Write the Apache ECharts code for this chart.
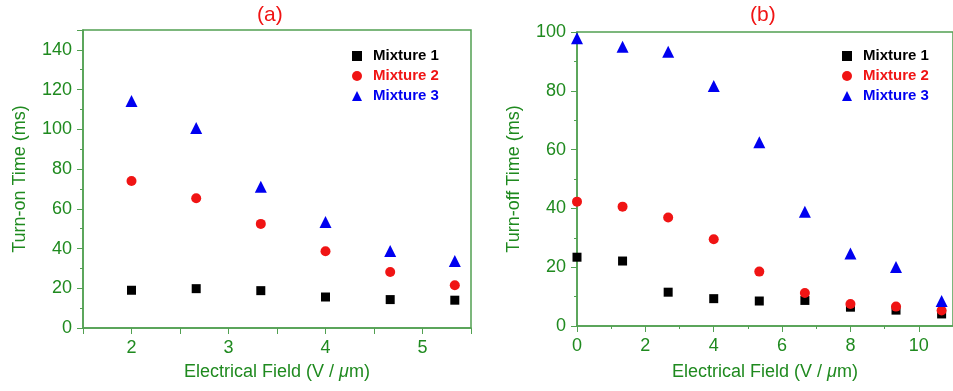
<!DOCTYPE html>
<html>
<head>
<meta charset="utf-8">
<script src="https://cdn.jsdelivr.net/npm/echarts@6/dist/echarts.min.js"></script>
<style>
html,body{margin:0;padding:0;background:#fff;}
#chart{width:953px;height:391px;}
</style>
</head>
<body>
<div id="chart"></div>
<script>
// panel (a): turn-on time
var fieldA = [2, 2.667, 3.333, 4, 4.667, 5.333];
var onMix1 = [19.0, 19.8, 18.8, 15.6, 14.3, 14.0];
var onMix2 = [74.0, 65.3, 52.4, 38.6, 28.2, 21.5];
var onMix3 = [114.3, 100.7, 71.1, 53.4, 38.8, 33.7];

// panel (b): turn-off time
var fieldB = [0, 1.333, 2.667, 4, 5.333, 6.667, 8, 9.333, 10.667];
var offMix1 = [23.4, 22.1, 11.5, 9.3, 8.5, 8.7, 6.4, 5.4, 4.1];
var offMix2 = [42.3, 40.6, 36.9, 29.5, 18.5, 11.2, 7.5, 6.6, 5.3];
var offMix3 = [97.9, 95.0, 93.3, 81.6, 62.5, 38.9, 24.7, 20.1, 8.5];

var names = ['Mixture 1', 'Mixture 2', 'Mixture 3'];
var colors = ['#000000', '#f01414', '#0000f0'];
var symbols = ['rect', 'circle', 'triangle'];
var symSizes = [9, 10, 12];

var green = '#1f8a1f';
var axisGreen = '#52a052';
var fontFam = '"Liberation Sans", Arial, sans-serif';

function pairs(xs, ys) {
	var out = [];
	for (var i = 0; i < xs.length; i++) out.push([xs[i], ys[i]]);
	return out;
}

function mkSeries(idx, xs, ys, k) {
	return {
		name: names[k],
		type: 'scatter',
		xAxisIndex: idx,
		yAxisIndex: idx,
		symbol: symbols[k],
		symbolSize: symSizes[k],
		itemStyle: { color: colors[k], opacity: 1 },
		data: pairs(xs, ys)
	};
}

// legend: small marker, text pushed right with padding
function mkLegend(left) {
	return {
		orient: 'vertical',
		left: left,
		top: 43,
		itemWidth: 10,
		itemHeight: 10,
		itemGap: 4,
		data: names.map(function (n, k) {
			return { name: n, icon: symbols[k], itemStyle: { opacity: 1 }, textStyle: { color: colors[k] } };
		}),
		textStyle: { fontFamily: fontFam, fontSize: 15, fontWeight: 'bold', lineHeight: 16, padding: [0, 0, 0, 6] }
	};
}

var axisCommon = {
	axisLine: { show: true, lineStyle: { color: axisGreen, width: 1.5 } },
	axisTick: { show: true, length: 6, lineStyle: { color: axisGreen } },
	splitLine: { show: false },
	axisLabel: { color: green, fontFamily: fontFam, fontSize: 18, margin: 11 },
	nameTextStyle: {
		color: green, fontFamily: fontFam, fontSize: 18,
		rich: { i: { fontStyle: 'italic', color: green, fontFamily: fontFam, fontSize: 18 } }
	}
};

function ext(o) {
	return Object.assign({}, axisCommon, o);
}

var chart = echarts.init(document.getElementById('chart'));
var option = {
	animation: false,
	title: [
		{ text: '(a)', left: 252, top: 0, textStyle: { color: '#f01414', fontSize: 21, fontWeight: 'normal', fontFamily: fontFam } },
		{ text: '(b)', left: 745, top: 0, textStyle: { color: '#f01414', fontSize: 21, fontWeight: 'normal', fontFamily: fontFam } }
	],
	legend: [mkLegend(347), mkLegend(837)],
	grid: [
		{ left: 83, top: 30, width: 388, height: 298, show: true, borderColor: axisGreen, borderWidth: 1.5, containLabel: false },
		{ left: 577, top: 32, right: -7, height: 294, show: true, borderColor: axisGreen, borderWidth: 1.5, containLabel: false }
	],
	xAxis: [
		ext({
			gridIndex: 0, type: 'value', min: 1.5, max: 5.5, interval: 0.5,
			name: 'Electrical Field (V / {i|μ}m)', nameLocation: 'middle', nameGap: 35,
			axisLabel: Object.assign({}, axisCommon.axisLabel, {
				formatter: function (v) { return Math.abs(v - Math.round(v)) < 1e-6 ? String(Math.round(v)) : ''; }
			})
		}),
		ext({
			gridIndex: 1, type: 'value', min: 0, max: 11, interval: 2,
			minorTick: { show: true, splitNumber: 2, length: 3, lineStyle: { color: axisGreen } },
			name: 'Electrical Field (V / {i|μ}m)', nameLocation: 'middle', nameGap: 37,
			axisLabel: Object.assign({}, axisCommon.axisLabel, { showMaxLabel: false })
		})
	],
	yAxis: [
		ext({
			gridIndex: 0, type: 'value', min: 0, max: 150, interval: 20,
			minorTick: { show: true, splitNumber: 2, length: 3, lineStyle: { color: axisGreen } },
			name: 'Turn-on Time (ms)', nameLocation: 'middle', nameGap: 54,
			axisLabel: Object.assign({}, axisCommon.axisLabel, { showMaxLabel: false })
		}),
		ext({
			gridIndex: 1, type: 'value', min: 0, max: 100, interval: 20,
			minorTick: { show: true, splitNumber: 2, length: 3, lineStyle: { color: axisGreen } },
			name: 'Turn-off Time (ms)', nameLocation: 'middle', nameGap: 54
		})
	],
	series: [
		mkSeries(0, fieldA, onMix1, 0),
		mkSeries(0, fieldA, onMix2, 1),
		mkSeries(0, fieldA, onMix3, 2),
		mkSeries(1, fieldB, offMix1, 0),
		mkSeries(1, fieldB, offMix2, 1),
		mkSeries(1, fieldB, offMix3, 2)
	]
};
chart.setOption(option);
window.onresize = chart.resize;
</script>
</body>
</html>
